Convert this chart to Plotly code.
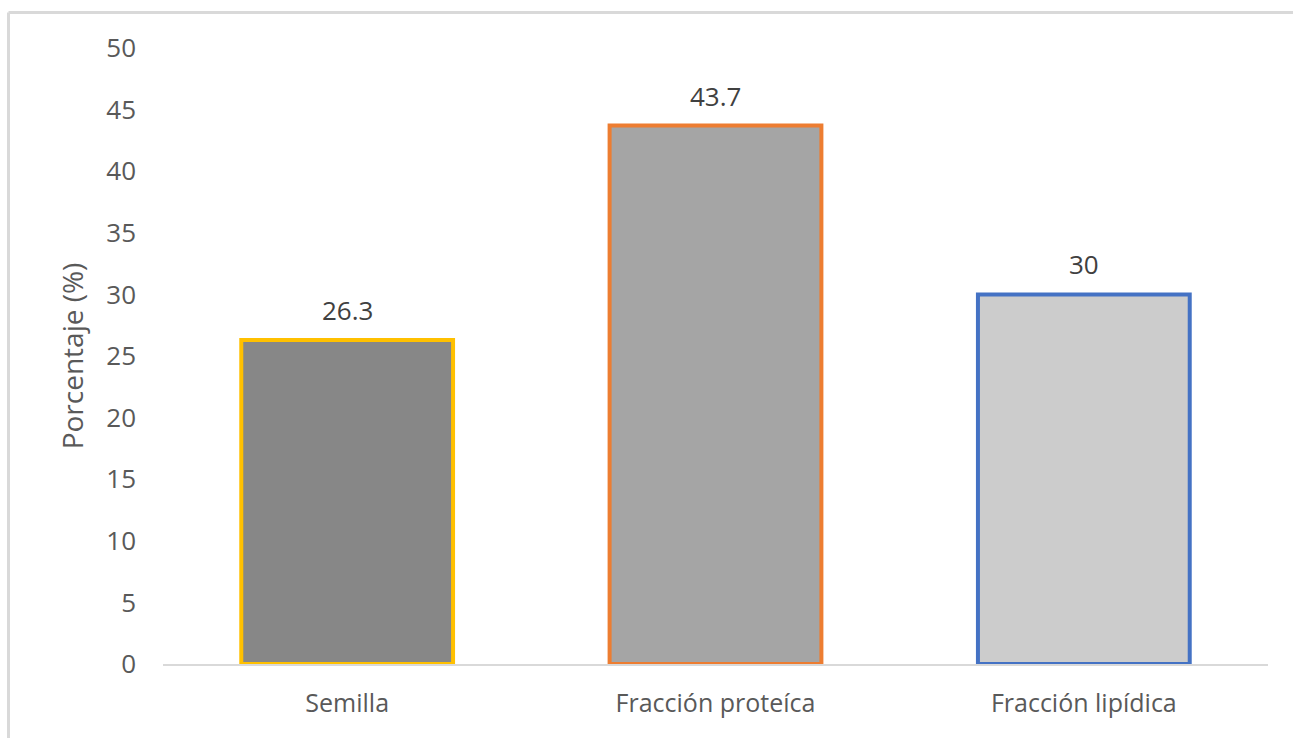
import plotly.graph_objects as go

# Composition data
categorias = ["Semilla", "Fracción proteíca", "Fracción lipídica"]
porcentajes = [26.3, 43.7, 30]
etiquetas = ["26.3", "43.7", "30"]
colores_relleno = ["#878787", "#A5A5A5", "#CCCCCC"]
colores_borde = ["#FFC000", "#ED7D31", "#4472C4"]
ticks_y = [0, 5, 10, 15, 20, 25, 30, 35, 40, 45, 50]

W, H = 1293, 738
ML, MR, MT, MB = 163, 25, 48, 74
plot_w = W - ML - MR
plot_h = H - MT - MB
FONT = "Open Sans"

fig = go.Figure(
    go.Bar(
        x=categorias,
        y=porcentajes,
        marker=dict(color=colores_relleno, line=dict(color=colores_borde, width=4)),
        width=0.575,
    )
)

# Value labels above each bar
for cat, val, txt in zip(categorias, porcentajes, etiquetas):
    fig.add_annotation(
        x=cat, y=val, text=txt, showarrow=False,
        yanchor="bottom", yshift=10,
        font=dict(size=26, color="#404040", family=FONT),
    )

# Chart frame (top and left edges)
px_to_x = lambda px: (px - ML) / plot_w
px_to_y = lambda py: (H - MB - py) / plot_h
frame = dict(color="#D9D9D9", width=3)
fig.add_shape(type="line", xref="paper", yref="paper",
              x0=px_to_x(8.5), x1=px_to_x(8.5), y0=px_to_y(12.5), y1=px_to_y(745), line=frame)
fig.add_shape(type="line", xref="paper", yref="paper",
              x0=px_to_x(8.5), x1=px_to_x(1300), y0=px_to_y(12.5), y1=px_to_y(12.5), line=frame)

fig.update_layout(
    width=W,
    height=H,
    margin=dict(l=ML, r=MR, t=MT, b=MB),
    plot_bgcolor="white",
    paper_bgcolor="white",
    font=dict(family=FONT, color="#595959", size=26),
    showlegend=False,
    xaxis=dict(
        showline=True,
        linecolor="#D9D9D9",
        linewidth=2,
        showgrid=False,
        ticks="",
        tickfont=dict(size=25, color="#595959"),
        ticklabelstandoff=16,
    ),
    yaxis=dict(
        range=[0, 50],
        tickvals=ticks_y,
        showgrid=False,
        zeroline=False,
        showline=False,
        ticks="",
        tickfont=dict(size=26, color="#595959"),
        ticklabelstandoff=26,
        title=dict(text="Porcentaje (%)", font=dict(size=28, color="#595959"), standoff=14),
    ),
)

fig.write_html("out.html")
